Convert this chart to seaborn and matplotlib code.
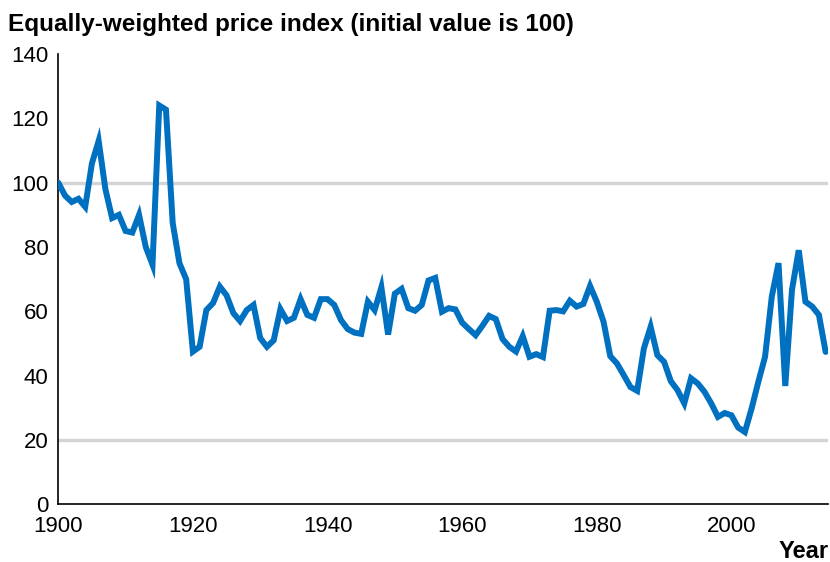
import matplotlib
matplotlib.use("Agg")
import matplotlib.pyplot as plt
import seaborn as sns
import numpy as np
import pandas as pd

# equally-weighted price index, initial value 100
years = list(range(1900, 2015))
index_values = [
    100, 96, 94, 95, 92.5, 106, 113, 98, 89, 90,        # 1900-1909
    85, 84.5, 90, 80, 74.5, 124, 122.7, 87.5, 75, 70,    # 1910-1919
    47.5, 49, 60.4, 62.6, 67.7, 65, 59.5, 57, 60.4, 62,  # 1920-1929
    51.7, 49, 51, 60.7, 57, 58, 63.8, 58.9, 58, 63.8,    # 1930-1939
    63.8, 62, 57.3, 54.5, 53.4, 53, 63, 60.4, 67.5, 52.8,  # 1940-1949
    65.5, 67, 61, 60.2, 62, 69.6, 70.4, 59.9, 61, 60.6,  # 1950-1959
    56.5, 54.5, 52.6, 55.5, 58.6, 57.6, 51.4, 49, 47.5, 52.3,  # 1960-1969
    45.9, 46.7, 45.8, 60.2, 60.4, 60, 63.3, 61.5, 62.3, 67.9,  # 1970-1979
    63, 56.8, 46.1, 43.8, 40.2, 36.5, 35.3, 48.5, 55.2, 46.4,  # 1980-1989
    44.3, 38.3, 35.5, 31.4, 39.2, 37.6, 35, 31.4, 27.2, 28.4,  # 1990-1999
    27.7, 23.9, 22.5, 29.8, 38.1, 45.9, 64.6, 75, 36.8, 66.7,  # 2000-2009
    79, 63, 61.5, 58.9, 47.4,                             # 2010-2014
]
y_ticks = [0, 20, 40, 60, 80, 100, 120, 140]
x_ticks = [1900, 1920, 1940, 1960, 1980, 2000]
ref_levels = [20, 100]

df = pd.DataFrame({"year": years, "index": index_values})

sns.set_style("white")
plt.rcParams["font.family"] = ["Liberation Sans", "DejaVu Sans"]
plt.rcParams["text.color"] = "black"

fig = plt.figure(figsize=(8.3, 5.62), dpi=100)
ax = fig.add_axes([0.0702, 0.1025, 0.998 - 0.0702, 0.9039 - 0.1025])

for lvl in ref_levels:
    ax.axhline(lvl, color="#d4d4d4", lw=2.4, zorder=1)

sns.lineplot(data=df, x="year", y="index", color="#0070c0", lw=4.3,
             ax=ax, zorder=3, solid_joinstyle="miter")

ax.set_xlim(1900, 2014.4)
ax.set_ylim(0, 140)
ax.set_xticks(x_ticks)
ax.set_yticks(y_ticks)
ax.set_xlabel("")
ax.set_ylabel("")
ax.tick_params(direction="in", length=6, width=1.2, labelsize=16,
               colors="black")
ax.tick_params(axis="y", pad=7)
ax.tick_params(axis="x", pad=8)
for side in ["top", "right"]:
    ax.spines[side].set_visible(False)
for side in ["left", "bottom"]:
    ax.spines[side].set_color("black")
    ax.spines[side].set_linewidth(1.2)

fig.text(0.01, 1 - 31 / 562, "Equally-weighted price index (initial value is 100)",
         fontsize=17.5, fontweight="bold", va="baseline", ha="left", color="black")
fig.text(0.998, 1 - 558 / 562, "Year", fontsize=17, fontweight="bold",
         va="baseline", ha="right", color="black")

fig.savefig("out.png", dpi=100)
